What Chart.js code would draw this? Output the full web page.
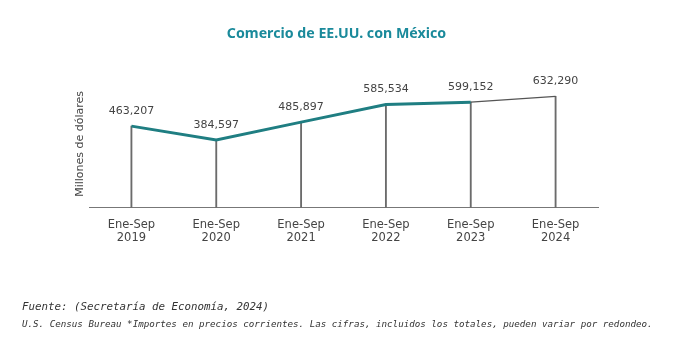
<!DOCTYPE html>
<html>
<head>
<meta charset="utf-8">
<script src="https://cdn.jsdelivr.net/npm/chart.js@4.4.1/dist/chart.umd.min.js"></script>
<style>
  html, body { margin: 0; padding: 0; background: #fff; }
  body { width: 673px; height: 338px; position: relative; overflow: hidden; }
  #wrap { position: absolute; left: 0; top: 0; width: 673px; height: 338px; }
  #title { position: absolute; left: 0; width: 673px; top: 23px; text-align: center;
    font-family: "Noto Sans", sans-serif; font-weight: 700; font-size: 14.2px; color: #1a8a9b; }
  .foot { position: absolute; left: 22px; font-family: "DejaVu Sans Mono", monospace; font-style: italic; color: #333; white-space: nowrap; }
  #f1 { top: 299.5px; font-size: 10.8px; }
  #f2 { top: 317.5px; font-size: 9.2px; }
</style>
</head>
<body>
<div id="wrap"><canvas id="c" width="673" height="338"></canvas></div>
<div id="title">Comercio de EE.UU. con México</div>
<div class="foot" id="f1">Fuente: (Secretaría de Economía, 2024)</div>
<div class="foot" id="f2">U.S. Census Bureau *Importes en precios corrientes. Las cifras, incluidos los totales, pueden variar por redondeo.</div>
<script>
const categories = [["Ene-Sep","2019"],["Ene-Sep","2020"],["Ene-Sep","2021"],["Ene-Sep","2022"],["Ene-Sep","2023"],["Ene-Sep","2024"]];
const comercio = [463207, 384597, 485897, 585534, 599152, 632290];
const yTitle = "Millones de dólares";

const fmt = v => v.toLocaleString('en-US');

const labelPlugin = {
  id: 'pointLabels',
  afterDatasetsDraw(chart) {
    const meta = chart.getDatasetMeta(0);
    const ctx = chart.ctx;
    ctx.save();
    ctx.font = '11px "DejaVu Sans", sans-serif';
    ctx.fillStyle = '#444';
    ctx.textAlign = 'center';
    ctx.textBaseline = 'middle';
    meta.data.forEach((pt, i) => {
      ctx.fillText(fmt(comercio[i]), pt.x, pt.y - 15);
    });
    ctx.restore();
  }
};

new Chart(document.getElementById('c'), {
  type: 'bar',
  data: {
    labels: categories,
    datasets: [
      {
        type: 'line',
        data: comercio,
        order: 0,
        pointRadius: 0,
        borderColor: '#1f7e82',
        borderWidth: 3,
        tension: 0,
        segment: {
          borderColor: c => c.p1DataIndex === 5 ? '#555' : '#1f7e82',
          borderWidth: c => c.p1DataIndex === 5 ? 1.2 : 3
        }
      },
      {
        type: 'bar',
        data: comercio,
        order: 1,
        backgroundColor: '#6b6b6b',
        barThickness: 1.2
      }
    ]
  },
  options: {
    responsive: false,
    animation: false,
    layout: { padding: { left: 60, right: 75, top: 80, bottom: 82.5 } },
    plugins: { legend: { display: false }, tooltip: { enabled: false } },
    scales: {
      x: {
        offset: true,
        grid: { display: false, drawTicks: false },
        border: { display: true, color: '#777', width: 1 },
        ticks: { color: '#444', padding: 11, font: { family: '"DejaVu Sans", sans-serif', size: 11.5, lineHeight: 1.12 } }
      },
      y: {
        min: 0,
        max: 725000,
        grid: { display: false, drawTicks: false },
        border: { display: false },
        ticks: { display: false },
        title: { display: true, text: yTitle, color: '#444', padding: { top: 13.4, bottom: 2.4 },
          font: { family: '"DejaVu Sans", sans-serif', size: 11, lineHeight: 1.2 } }
      }
    }
  },
  plugins: [labelPlugin]
});
</script>
</body>
</html>
